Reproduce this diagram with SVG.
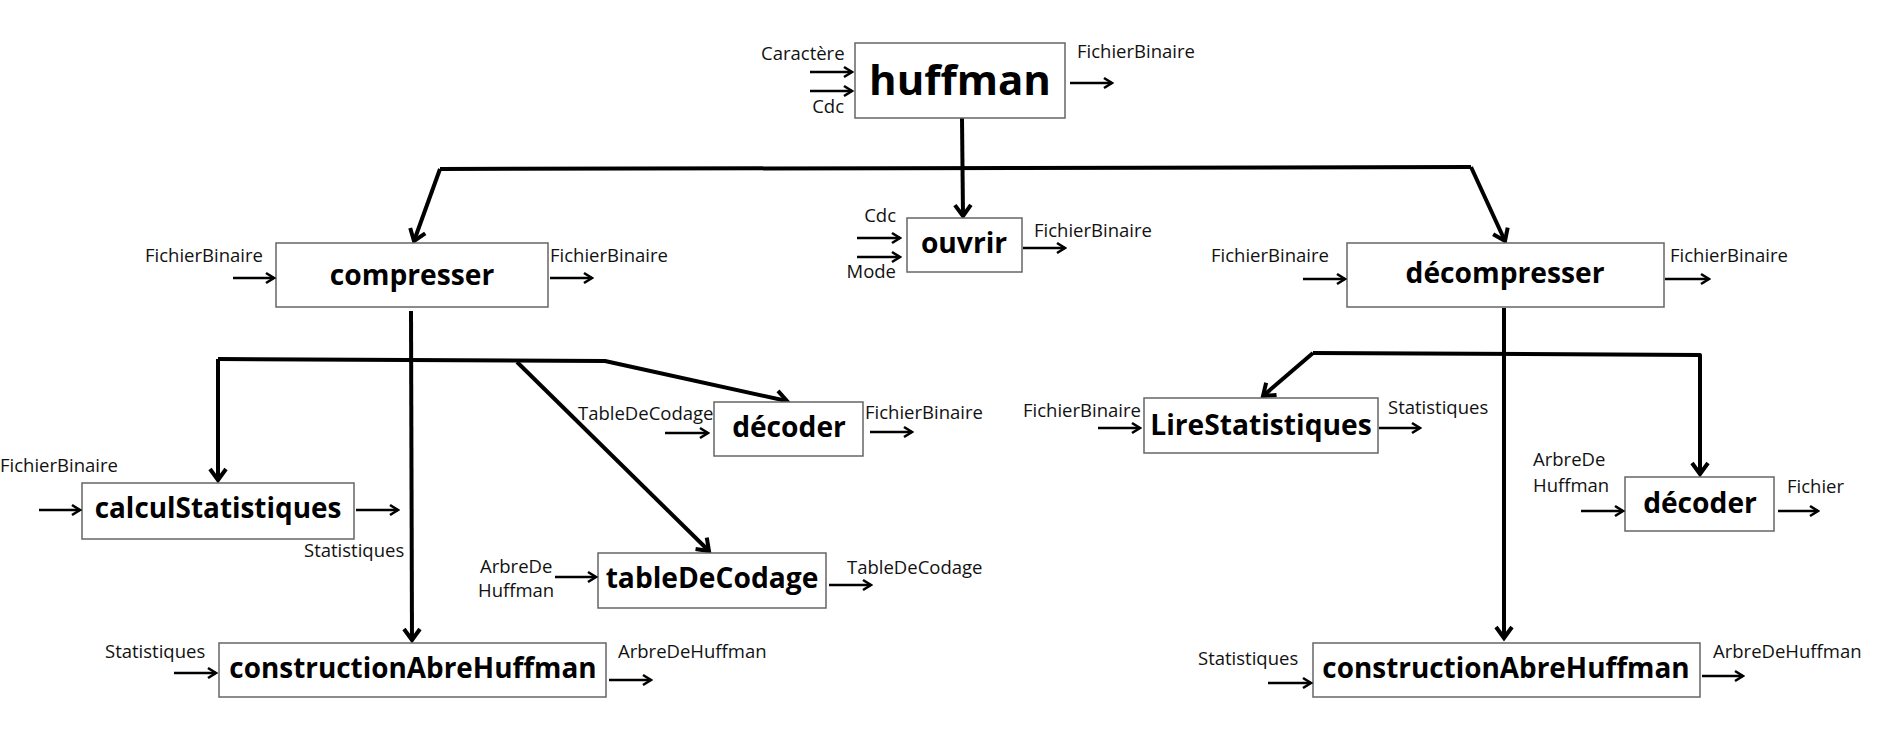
<svg xmlns="http://www.w3.org/2000/svg" width="1885" height="743" viewBox="0 0 1885 743">
<style>
.box{fill:#fff;stroke:#666;stroke-width:1.5}
.t{font-family:"Open Sans","DejaVu Sans",sans-serif;font-weight:bold;font-size:28.2px;fill:#000;text-anchor:middle}
.t2{font-size:27.9px}
.l{font-family:"Open Sans","DejaVu Sans",sans-serif;font-size:18.5px;fill:#111}
.e{text-anchor:end}
.io{stroke:#000;stroke-width:2.6;fill:none;marker-end:url(#sa)}
.c{stroke:#000;stroke-width:4;fill:none;stroke-linejoin:round}
.ca{marker-end:url(#la)}
</style>
<defs>
<marker id="sa" markerUnits="userSpaceOnUse" viewBox="-12 -8 14 16" refX="0" refY="0" markerWidth="14" markerHeight="16" orient="auto">
<path d="M-8,-5 L0,0 L-8,5" fill="none" stroke="#000" stroke-width="2.6" stroke-linejoin="miter"/>
</marker>
<marker id="la" markerUnits="userSpaceOnUse" viewBox="-16 -12 20 24" refX="0" refY="0" markerWidth="20" markerHeight="24" orient="auto">
<path d="M-11,-8 L0,0 L-11,8" fill="none" stroke="#000" stroke-width="4" stroke-linejoin="miter"/>
</marker>
</defs>
<rect width="1885" height="743" fill="#fff"/>
<g id="connectors">
<path class="c ca" d="M962,118 L963,216"/>
<path class="c" d="M440,169 L1471,167"/>
<path class="c ca" d="M440,169 L414,241"/>
<path class="c ca" d="M1471,167 L1505,241"/>
<path class="c ca" d="M411,311 L412,640"/>
<path class="c ca" d="M218,359 L605,361 L787,401"/>
<path class="c ca" d="M218,359 L218,480"/>
<path class="c ca" d="M517,362 L709,551"/>
<path class="c ca" d="M1504,308 L1504,638"/>
<path class="c ca" d="M1313,353 L1263,396"/>
<path class="c ca" d="M1313,353 L1700,355 L1700,474"/>
</g>
<g id="huffman">
<rect class="box" x="855" y="43" width="210" height="75"/>
<text class="t" x="960" y="95" style="font-size:42px">huffman</text>
<text class="l" x="761" y="60">Caractère</text>
<text class="l e" x="844" y="113">Cdc</text>
<path class="io" d="M810,72 L852,72"/>
<path class="io" d="M810,91 L852,91"/>
<path class="io" d="M1070,83 L1112,83"/>
<text class="l" x="1077" y="58">FichierBinaire</text>
</g>
<g id="ouvrir">
<rect class="box" x="907" y="218" width="115" height="54"/>
<text class="t" x="964" y="253">ouvrir</text>
<text class="l e" x="896" y="222">Cdc</text>
<text class="l e" x="896" y="278">Mode</text>
<path class="io" d="M857,238 L900,238"/>
<path class="io" d="M857,257 L900,257"/>
<path class="io" d="M1023,248 L1065,248"/>
<text class="l" x="1034" y="237">FichierBinaire</text>
</g>
<g id="compresser">
<rect class="box" x="276" y="243" width="272" height="64"/>
<text class="t" x="412" y="285">compresser</text>
<text class="l" x="145" y="262">FichierBinaire</text>
<path class="io" d="M233,278 L274,278"/>
<text class="l" x="550" y="262">FichierBinaire</text>
<path class="io" d="M550,278 L592,278"/>
</g>
<g id="decompresser">
<rect class="box" x="1347" y="243" width="317" height="64"/>
<text class="t" x="1505" y="283">décompresser</text>
<text class="l" x="1211" y="262">FichierBinaire</text>
<path class="io" d="M1303,279 L1345,279"/>
<text class="l" x="1670" y="262">FichierBinaire</text>
<path class="io" d="M1665,279 L1709,279"/>
</g>
<g id="calculStatistiques">
<rect class="box" x="82" y="483" width="272" height="56"/>
<text class="t t2" x="218" y="518">calculStatistiques</text>
<text class="l" x="0" y="472">FichierBinaire</text>
<path class="io" d="M39,510 L80,510"/>
<path class="io" d="M356,510 L398,510"/>
<text class="l" x="304" y="557">Statistiques</text>
</g>
<g id="decoder1">
<rect class="box" x="714" y="402" width="149" height="54"/>
<text class="t" x="789" y="437">décoder</text>
<text class="l" x="578" y="420">TableDeCodage</text>
<path class="io" d="M665,433 L708,433"/>
<path class="io" d="M870,432 L912,432"/>
<text class="l" x="865" y="419">FichierBinaire</text>
</g>
<g id="tableDeCodage">
<rect class="box" x="598" y="553" width="228" height="55"/>
<text class="t" x="712" y="588">tableDeCodage</text>
<text class="l" x="480" y="573">ArbreDe</text>
<text class="l" x="478" y="597">Huffman</text>
<path class="io" d="M555,577 L596,577"/>
<path class="io" d="M829,585 L871,585"/>
<text class="l" x="847" y="574">TableDeCodage</text>
</g>
<g id="constructionAbreHuffman1">
<rect class="box" x="219" y="643" width="387" height="54"/>
<text class="t t2" x="413" y="678">constructionAbreHuffman</text>
<text class="l" x="105" y="658">Statistiques</text>
<path class="io" d="M174,673 L216,673"/>
<text class="l" x="618" y="658">ArbreDeHuffman</text>
<path class="io" d="M609,680 L651,680"/>
</g>
<g id="LireStatistiques">
<rect class="box" x="1144" y="398" width="234" height="55"/>
<text class="t" x="1261" y="435">LireStatistiques</text>
<text class="l" x="1023" y="417">FichierBinaire</text>
<path class="io" d="M1098,428 L1140,428"/>
<path class="io" d="M1379,428 L1420,428"/>
<text class="l" x="1388" y="414">Statistiques</text>
</g>
<g id="decoder2">
<rect class="box" x="1625" y="477" width="149" height="54"/>
<text class="t" x="1700" y="513">décoder</text>
<text class="l" x="1533" y="466">ArbreDe</text>
<text class="l" x="1533" y="492">Huffman</text>
<path class="io" d="M1581,511 L1623,511"/>
<path class="io" d="M1778,511 L1818,511"/>
<text class="l" x="1787" y="493">Fichier</text>
</g>
<g id="constructionAbreHuffman2">
<rect class="box" x="1313" y="643" width="387" height="54"/>
<text class="t t2" x="1506" y="678">constructionAbreHuffman</text>
<text class="l" x="1198" y="665">Statistiques</text>
<path class="io" d="M1268,683 L1311,683"/>
<text class="l" x="1713" y="658">ArbreDeHuffman</text>
<path class="io" d="M1702,676 L1743,676"/>
</g>
</svg>
